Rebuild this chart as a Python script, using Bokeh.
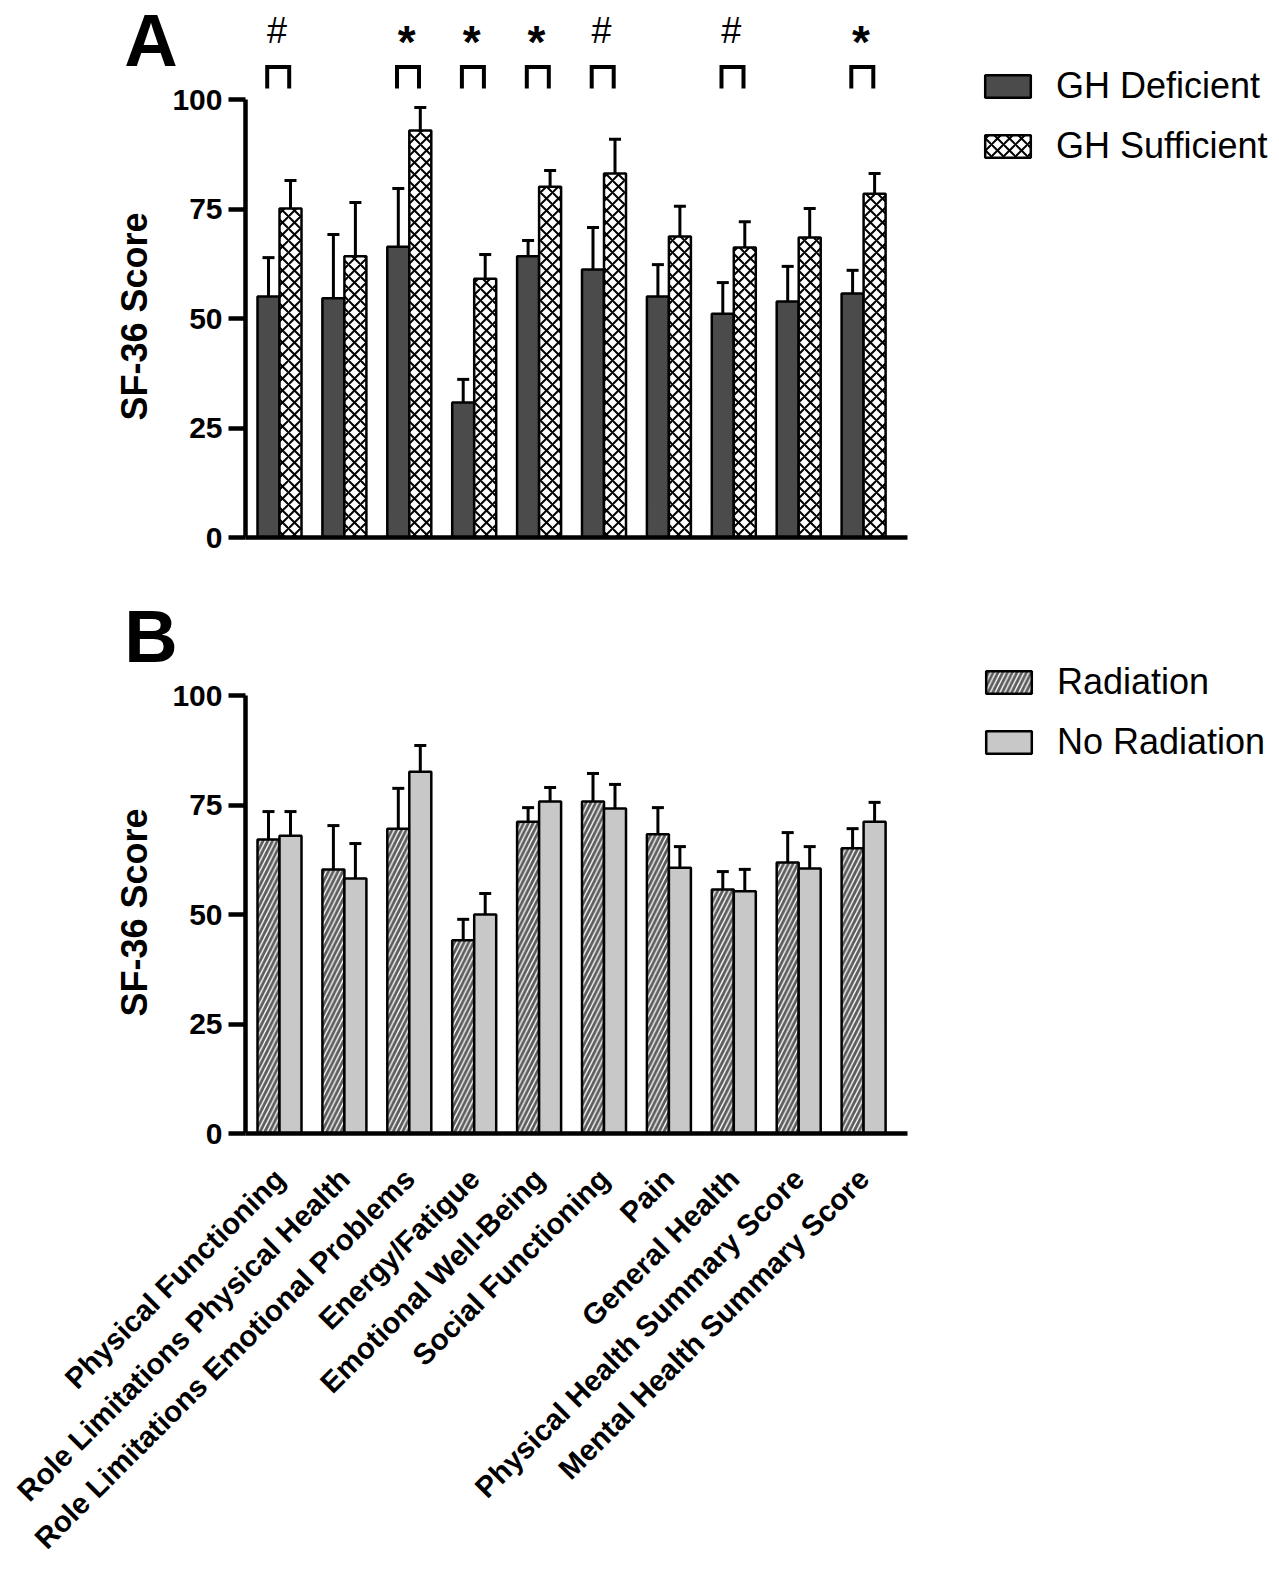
import math
from bokeh.plotting import figure
from bokeh.models import (ColumnDataSource, Whisker, TeeHead, Label, Legend, LegendItem,
                          FixedTicker, Range1d, Title)
from bokeh.layouts import column
from bokeh.embed import file_html
from bokeh.resources import INLINE
from bokeh.core.properties import value

# ---------------- data ----------------
categories = ["Physical Functioning", "Role Limitations Physical Health",
              "Role Limitations Emotional Problems", "Energy/Fatigue",
              "Emotional Well-Being", "Social Functioning", "Pain", "General Health",
              "Physical Health Summary Score", "Mental Health Summary Score"]

gh_deficient = [55.0, 54.6, 66.4, 30.8, 64.2, 61.2, 55.0, 51.1, 53.9, 55.7]
gh_deficient_err = [8.9, 14.6, 13.3, 5.3, 3.6, 9.6, 7.3, 7.1, 8.0, 5.3]
gh_sufficient = [75.1, 64.2, 92.9, 59.1, 80.1, 83.1, 68.7, 66.2, 68.5, 78.5]
gh_sufficient_err = [6.4, 12.3, 5.3, 5.5, 3.7, 7.8, 6.9, 5.9, 6.6, 4.6]
significance = ["#", "", "*", "*", "*", "#", "", "#", "", "*"]

radiation = [67.1, 60.3, 69.6, 44.1, 71.2, 75.8, 68.3, 55.7, 61.9, 65.1]
radiation_err = [6.4, 10.0, 9.2, 4.8, 3.2, 6.4, 6.1, 4.1, 6.8, 4.5]
no_radiation = [68.0, 58.2, 82.6, 50.0, 75.8, 74.2, 60.7, 55.3, 60.5, 71.2]
no_radiation_err = [5.5, 8.0, 6.0, 4.8, 3.2, 5.5, 4.8, 5.0, 5.0, 4.4]

y_ticks = [0, 25, 50, 75, 100]

# ---------------- layout constants ----------------
FONT = "Liberation Sans"
PX_PER_UNIT_X = 64.9
PX_PER_UNIT_Y = 4.38
FIG_W = 1273
LEFT = 245
X0 = -34 / PX_PER_UNIT_X
X1 = X0 + (FIG_W - LEFT) / PX_PER_UNIT_X
AX_LO = -50 / PX_PER_UNIT_X
AX_HI = 628 / PX_PER_UNIT_X
BAR_W = 22 / PX_PER_UNIT_X
OFF = BAR_W / 2
idx = list(range(len(categories)))


def base_fig(height, frame_h, top, bottom):
    p = figure(width=FIG_W, height=height,
               x_range=Range1d(X0, X1), y_range=Range1d(0, frame_h / PX_PER_UNIT_Y),
               output_backend="svg", toolbar_location=None,
               min_border_left=LEFT, min_border_right=0, min_border_top=top,
               min_border_bottom=bottom)
    p.outline_line_color = None
    p.xgrid.visible = False
    p.ygrid.visible = False
    p.background_fill_color = "white"
    p.border_fill_color = "white"

    ya = p.yaxis[0]
    ya.ticker = FixedTicker(ticks=y_ticks)
    ya.bounds = (0, 100)
    ya.axis_line_width = 4.5
    ya.major_tick_line_width = 4.5
    ya.major_tick_out = 17
    ya.major_tick_in = 0
    ya.minor_tick_out = 0
    ya.minor_tick_in = 0
    ya.major_label_standoff = 6
    ya.major_label_text_font = FONT
    ya.major_label_text_font_style = "bold"
    ya.major_label_text_font_size = "30px"
    ya.major_label_text_color = "black"

    xa = p.xaxis[0]
    xa.bounds = (AX_LO, AX_HI)
    xa.axis_line_width = 4.5
    xa.major_tick_out = 0
    xa.major_tick_in = 0
    xa.minor_tick_out = 0
    xa.minor_tick_in = 0
    return p


def add_bars(p, vals, errs, offset, **style):
    xs = [i + offset for i in idx]
    src = ColumnDataSource(dict(x=xs, top=vals,
                                upper=[v + e for v, e in zip(vals, errs)]))
    r = p.vbar(x="x", top="top", width=BAR_W, source=src,
               line_color="black", line_width=2.5, **style)
    w = Whisker(source=src, base="x", lower="top", upper="upper", dimension="height",
                line_color="black", line_width=3,
                upper_head=TeeHead(size=12, line_width=3, line_color="black"),
                lower_head=None)
    p.add_layout(w)
    return r


def add_legend(p, items, loc):
    lg = Legend(items=items, location=loc, glyph_width=57, glyph_height=28,
                label_text_font=FONT, label_text_font_size="36px",
                label_text_color="black", label_standoff=20, spacing=18,
                padding=0, margin=0, border_line_color=None,
                background_fill_alpha=0)
    p.add_layout(lg)


def add_titles(p, letter):
    p.add_layout(Title(text="SF-36 Score", align="left", offset=117, standoff=30,
                       text_font=FONT, text_font_style="bold",
                       text_font_size="36px", text_color="black"), "left")
    p.add_layout(Label(x=-1.98, y=113.5, text=letter, text_align="center",
                       text_baseline="alphabetic", text_font=FONT,
                       text_font_style="bold", text_font_size="74px",
                       text_color="black"), "left")


# ---------------- panel A ----------------
pA = base_fig(557, 529, 8, 20)
pA.xaxis[0].ticker = FixedTicker(ticks=[])
pA.xaxis[0].major_label_text_font_size = "0px"

rA1 = add_bars(pA, gh_deficient, gh_deficient_err, -OFF, fill_color="#4b4b4b")
rA2 = add_bars(pA, gh_sufficient, gh_sufficient_err, OFF, fill_color="white",
               hatch_pattern="diagonal_cross", hatch_color="black",
               hatch_weight=2, hatch_scale=12)

sig_idx = [i for i in idx if significance[i]]
br_xs = [[i - OFF - 0.02, i - OFF - 0.02, i + OFF - 0.02, i + OFF - 0.02] for i in sig_idx]
br_ys = [[102.5, 107.4, 107.4, 102.5] for _ in sig_idx]
pA.multi_line(xs=br_xs, ys=br_ys, line_color="black", line_width=4,
              line_join="miter")
hash_idx = [i for i in idx if significance[i] == "#"]
star_idx = [i for i in idx if significance[i] == "*"]
pA.text(x=[i - 0.04 for i in hash_idx], y=[115.7] * len(hash_idx),
        text=["#"] * len(hash_idx), text_align="center", text_baseline="alphabetic",
        text_font=value(FONT), text_font_size="36px", text_color="black")
pA.text(x=[i - 0.04 for i in star_idx], y=[113.2] * len(star_idx),
        text=["*"] * len(star_idx), text_align="center", text_baseline="alphabetic",
        text_font=value(FONT), text_font_style="bold", text_font_size="46px",
        text_color="black")

add_legend(pA, [LegendItem(label="GH Deficient", renderers=[rA1]),
                LegendItem(label="GH Sufficient", renderers=[rA2])], (734, 370))
add_titles(pA, "A")

# ---------------- panel B ----------------
pB = base_fig(1014, 482, 94, 438)
xb = pB.xaxis[0]
xb.ticker = FixedTicker(ticks=idx)
xb.major_label_overrides = {i: c for i, c in zip(idx, categories)}
xb.major_label_orientation = math.pi / 4
xb.major_label_standoff = 40
xb.major_label_text_font = FONT
xb.major_label_text_font_style = "bold"
xb.major_label_text_font_size = "29.5px"
xb.major_label_text_color = "black"

rB1 = add_bars(pB, radiation, radiation_err, -OFF, fill_color="#5c5c5c",
               hatch_pattern="right_diagonal_line", hatch_color="white",
               hatch_weight=1.4, hatch_scale=9.5)
rB2 = add_bars(pB, no_radiation, no_radiation_err, OFF, fill_color="#c8c8c8")

add_legend(pB, [LegendItem(label="Radiation", renderers=[rB1]),
                LegendItem(label="No Radiation", renderers=[rB2])], (735, 370))
add_titles(pB, "B")

layout = column(pA, pB, spacing=0)
open("out.html", "w").write(file_html(layout, INLINE))
